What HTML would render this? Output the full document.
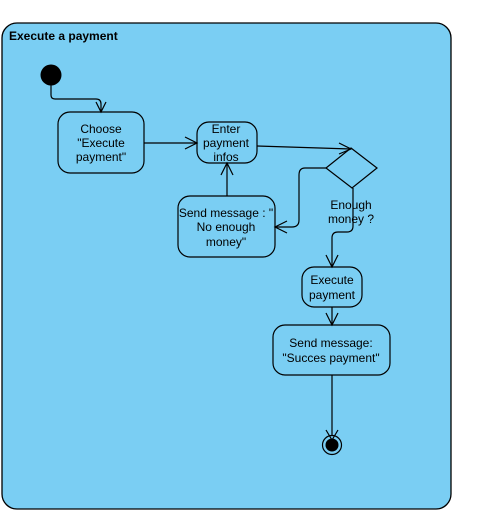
<!DOCTYPE html>
<html><head><meta charset="utf-8"><style>
html,body{margin:0;padding:0;background:#fff;}
svg{display:block;}
text{font-family:"Liberation Sans",Arial,sans-serif;font-size:12px;fill:#000;}
</style></head><body>
<svg width="480" height="531" viewBox="0 0 480 531" xmlns="http://www.w3.org/2000/svg">
<rect x="2" y="23" width="449" height="486" rx="15" fill="#7ACEF3" stroke="#000" stroke-width="1.3"/>
<text x="9" y="40" style="font-weight:bold">Execute a payment</text>
<g fill="none" stroke="#000" stroke-width="1.2">
<!-- initial to choose -->
<path d="M51,85 V95 Q51,99 55,99 H96 Q101,99 101,104 V112"/>
<path d="M96,102 L101,112 L106,102"/>
<!-- choose to enter -->
<path d="M144,143 H197"/>
<path d="M185,137 L197,143 L185,149"/>
<!-- enter to diamond -->
<path d="M257,146 L351,149"/>
<path d="M339,143 L351,149 L339,154"/>
<!-- diamond left to send no enough -->
<path d="M326,168 H305 Q299,168 299,175 V220 Q299,227 292,227 H275"/>
<path d="M287,221 L275,227 L287,233"/>
<!-- send no enough to enter -->
<path d="M227,196 V163"/>
<path d="M221,175 L227,163 L233,175"/>
<!-- diamond bottom to execute -->
<path d="M353,188 V226 Q353,232 347,232 H338 Q332,232 332,238 V267"/>
<path d="M326,255 L332,267 L338,255"/>
<!-- execute to success -->
<path d="M332,307 V325"/>
<path d="M326,313 L332,325 L338,313"/>
<!-- success to final -->
<path d="M332,375 V435"/>
<path d="M326,430 L332,440 L338,430"/>
<!-- nodes -->
<rect x="58" y="112" width="86" height="61" rx="12"/>
<rect x="197" y="122" width="60" height="41" rx="12"/>
<polygon points="351,148 377,168 352,188 326,168"/>
<rect x="178" y="196" width="97" height="61" rx="12"/>
<rect x="302" y="267" width="60" height="40" rx="12"/>
<rect x="273" y="325" width="117" height="50" rx="12"/>
<circle cx="332" cy="445" r="9.5"/>
</g>
<circle cx="51" cy="75" r="10.5" fill="#000"/>
<circle cx="332" cy="445" r="6.5" fill="#000"/>
<g text-anchor="middle">
<text x="101" y="133">Choose</text>
<text x="101" y="147">"Execute</text>
<text x="101" y="161">payment"</text>
<text x="226" y="133">Enter</text>
<text x="226" y="147">payment</text>
<text x="226" y="161">infos</text>
<text x="226" y="217">Send message : "</text>
<text x="226" y="231">No enough</text>
<text x="226" y="246">money"</text>
<text x="351" y="209">Enough</text>
<text x="351" y="223">money ?</text>
<text x="332" y="284">Execute</text>
<text x="332" y="299">payment</text>
<text x="331" y="347">Send message:</text>
<text x="331" y="362">"Succes payment"</text>
</g>
</svg>
</body></html>
